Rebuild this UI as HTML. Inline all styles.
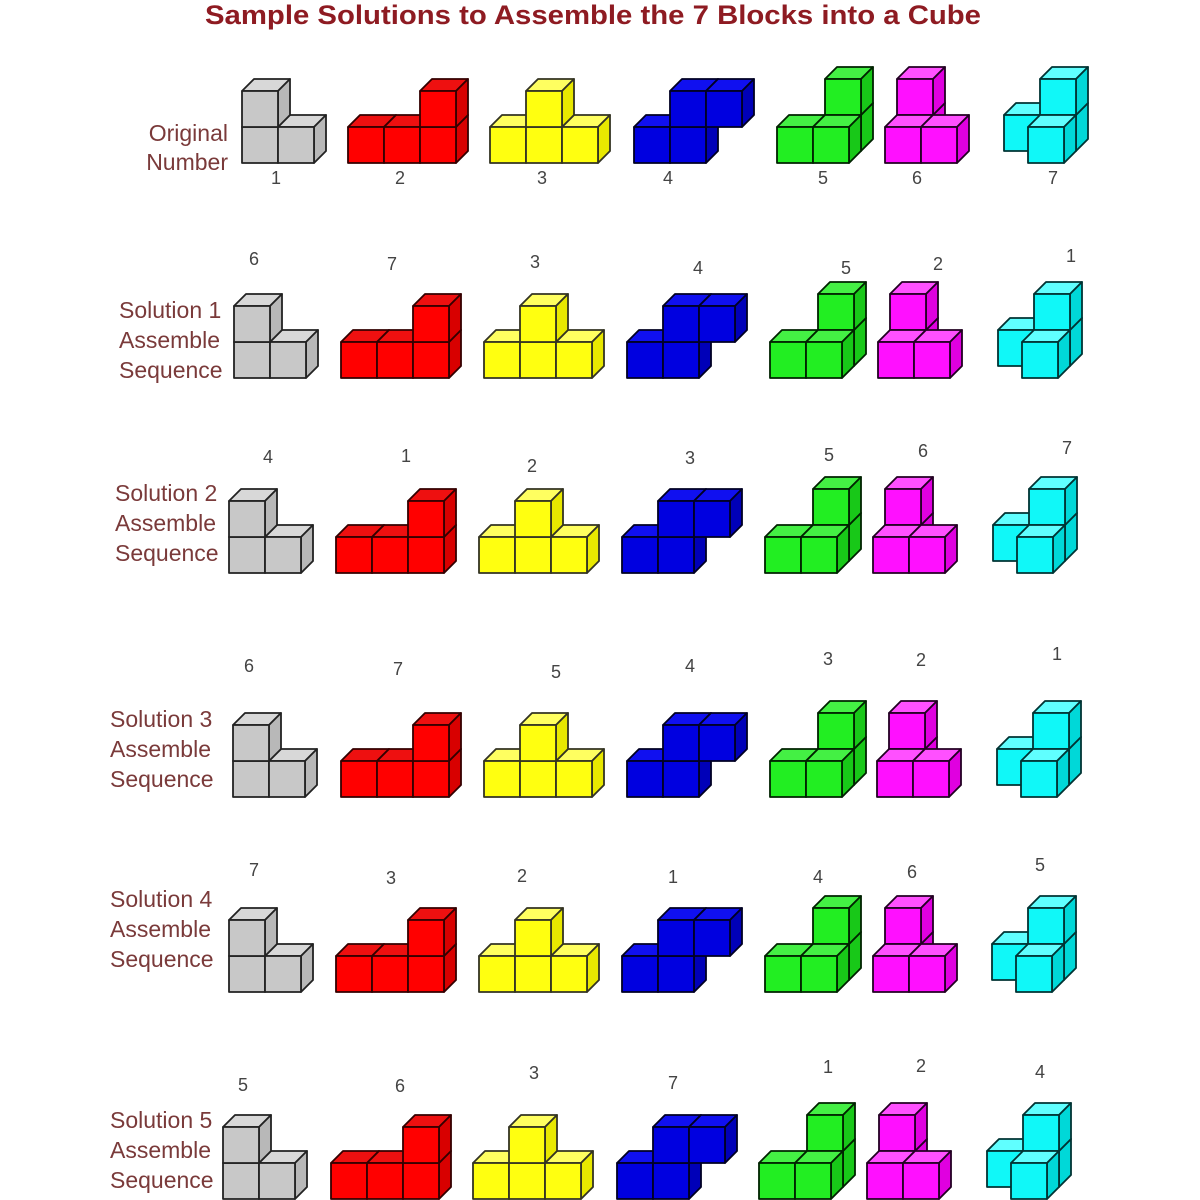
<!DOCTYPE html>
<html><head><meta charset="utf-8"><style>
html,body{margin:0;padding:0;background:#fff;width:1200px;height:1200px;overflow:hidden}
svg{display:block}
.t{font-family:"Liberation Sans",sans-serif;font-weight:bold;font-size:27px;fill:#8e1b22}
.l{font-family:"Liberation Sans",sans-serif;font-size:23px;fill:#7a3a3a}
.n{font-family:"Liberation Sans",sans-serif;font-size:18px;fill:#444;text-anchor:middle}
</style></head><body>
<svg id="s" width="1200" height="1200" viewBox="0 0 1200 1200">
<text class="t" x="593" y="24" text-anchor="middle" textLength="776" lengthAdjust="spacingAndGlyphs">Sample Solutions to Assemble the 7 Blocks into a Cube</text>
<g id="cubes"></g>
<text class="l" x="228" y="141" text-anchor="end">Original</text>
<text class="l" x="228" y="170" text-anchor="end">Number</text>
<text class="l" x="119" y="318">Solution 1</text><text class="l" x="119" y="348">Assemble</text><text class="l" x="119" y="378">Sequence</text>
<text class="l" x="115" y="501">Solution 2</text><text class="l" x="115" y="531">Assemble</text><text class="l" x="115" y="561">Sequence</text>
<text class="l" x="110" y="727">Solution 3</text><text class="l" x="110" y="757">Assemble</text><text class="l" x="110" y="787">Sequence</text>
<text class="l" x="110" y="907">Solution 4</text><text class="l" x="110" y="937">Assemble</text><text class="l" x="110" y="967">Sequence</text>
<text class="l" x="110" y="1128">Solution 5</text><text class="l" x="110" y="1158">Assemble</text><text class="l" x="110" y="1188">Sequence</text>
<g>
<text class="n" x="276" y="184">1</text><text class="n" x="400" y="184">2</text><text class="n" x="542" y="184">3</text><text class="n" x="668" y="184">4</text><text class="n" x="823" y="184">5</text><text class="n" x="917" y="184">6</text><text class="n" x="1053" y="184">7</text>
<text class="n" x="254" y="265">6</text><text class="n" x="392" y="270">7</text><text class="n" x="535" y="268">3</text><text class="n" x="698" y="274">4</text><text class="n" x="846" y="274">5</text><text class="n" x="938" y="270">2</text><text class="n" x="1071" y="262">1</text>
<text class="n" x="268" y="463">4</text><text class="n" x="406" y="462">1</text><text class="n" x="532" y="472">2</text><text class="n" x="690" y="464">3</text><text class="n" x="829" y="461">5</text><text class="n" x="923" y="457">6</text><text class="n" x="1067" y="454">7</text>
<text class="n" x="249" y="672">6</text><text class="n" x="398" y="675">7</text><text class="n" x="556" y="678">5</text><text class="n" x="690" y="672">4</text><text class="n" x="828" y="665">3</text><text class="n" x="921" y="666">2</text><text class="n" x="1057" y="660">1</text>
<text class="n" x="254" y="876">7</text><text class="n" x="391" y="884">3</text><text class="n" x="522" y="882">2</text><text class="n" x="673" y="883">1</text><text class="n" x="818" y="883">4</text><text class="n" x="912" y="878">6</text><text class="n" x="1040" y="871">5</text>
<text class="n" x="243" y="1091">5</text><text class="n" x="400" y="1092">6</text><text class="n" x="534" y="1079">3</text><text class="n" x="673" y="1089">7</text><text class="n" x="828" y="1073">1</text><text class="n" x="921" y="1072">2</text><text class="n" x="1040" y="1078">4</text>
</g>
</svg>
<script>
(function(){
var S=36,D=12;
var blocks=[
 {c:["#c8c8c8","#d8d8d8","#b8b8b8"],k:"#222",cubes:[[0,0,0],[1,0,0],[0,1,0]]},
 {c:["#ff0000","#ee1010","#d80000"],k:"#300",cubes:[[0,0,0],[1,0,0],[2,0,0],[2,1,0]]},
 {c:["#ffff10","#ffff60","#e8e800"],k:"#332",cubes:[[0,0,0],[1,0,0],[2,0,0],[1,1,0]]},
 {c:["#0000e0","#1010f0","#0000b8"],k:"#002",cubes:[[0,0,0],[1,0,0],[1,1,0],[2,1,0]]},
 {c:["#22ee22","#44f044","#18c818"],k:"#020",cubes:[[0,0,0],[1,0,0],[1,0,1],[1,1,1]]},
 {c:["#ff10ff","#ff50ff","#e000e0"],k:"#202",cubes:[[0,0,0],[1,0,0],[0,0,1],[0,1,1]]},
 {c:["#10f8f8","#60ffff","#00d8d8"],k:"#033",cubes:[[1,0,0],[0,0,1],[1,0,1],[1,1,1]]}
];
var rows=[
 [163,[242,348,490,634,777,885,992]],
 [378,[234,341,484,627,770,878,986]],
 [573,[229,336,479,622,765,873,981]],
 [797,[233,341,484,627,770,877,985]],
 [992,[229,336,479,622,765,873,980]],
 [1199,[223,331,473,617,759,867,975]]
];
var out="";
function p(a){return a.map(function(q){return q[0]+","+q[1]}).join(" ");}
rows.forEach(function(r){
 var by=r[0];
 r[1].forEach(function(ox,i){
  var b=blocks[i];
  var cs=b.cubes.slice().sort(function(a,c){return (c[2]-a[2])||(a[1]-c[1])||(a[0]-c[0]);});
  cs.forEach(function(q){
   var x=ox+q[0]*S+q[2]*D, y=by-q[1]*S-q[2]*D;
   var st=' stroke="'+b.k+'" stroke-width="1.8" stroke-linejoin="round"';
   out+='<polygon points="'+p([[x,y-S],[x+D,y-S-D],[x+S+D,y-S-D],[x+S,y-S]])+'" fill="'+b.c[1]+'"'+st+'/>';
   out+='<polygon points="'+p([[x+S,y],[x+S,y-S],[x+S+D,y-S-D],[x+S+D,y-D]])+'" fill="'+b.c[2]+'"'+st+'/>';
   out+='<rect x="'+x+'" y="'+(y-S)+'" width="'+S+'" height="'+S+'" fill="'+b.c[0]+'"'+st+'/>';
  });
 });
});
document.getElementById("cubes").innerHTML=out;
})();
</script>
</body></html>
